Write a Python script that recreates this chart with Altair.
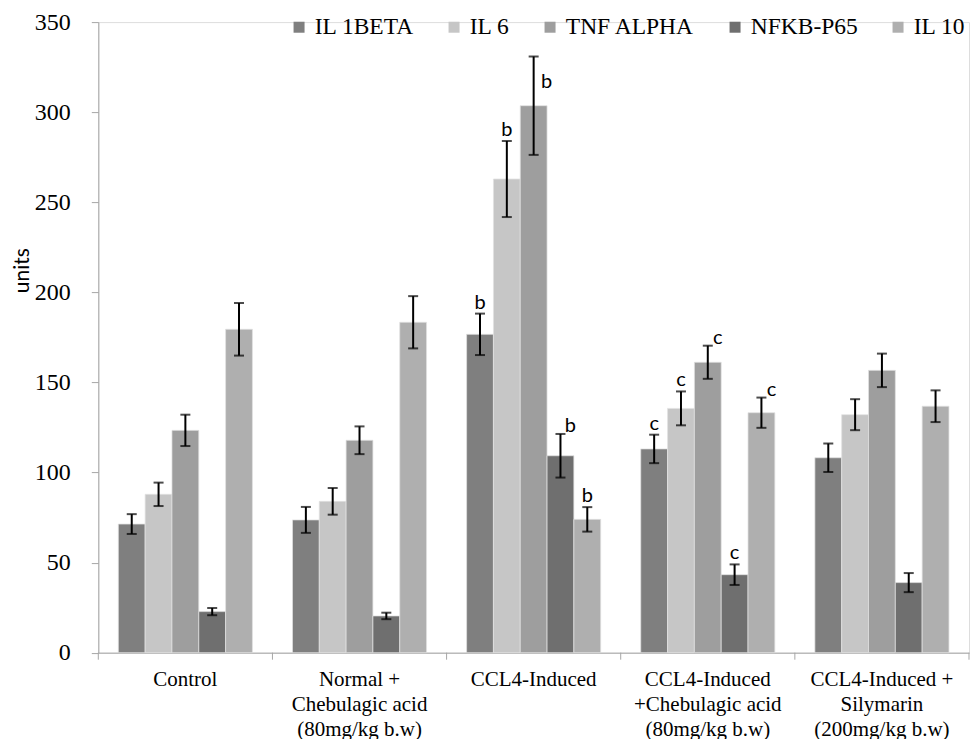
import altair as alt
import pandas as pd

groups = [
    "Control",
    "Normal +|Chebulagic acid|(80mg/kg b.w)",
    "CCL4-Induced",
    "CCL4-Induced|+Chebulagic acid|(80mg/kg b.w)",
    "CCL4-Induced +|Silymarin|(200mg/kg b.w)",
]
cytokines = ["IL 1BETA", "IL 6", "TNF ALPHA", "NFKB-P65", "IL 10"]
colors = ["#7f7f7f", "#c6c6c6", "#9e9e9e", "#6f6f6f", "#afafaf"]

il1beta = [71.4, 73.7, 176.7, 113.1, 108.2]
il6 = [87.9, 84.0, 262.9, 135.6, 132.1]
tnf_alpha = [123.4, 117.9, 303.6, 161.2, 156.7]
nfkb_p65 = [22.8, 20.4, 109.3, 43.3, 38.9]
il10 = [179.5, 183.4, 74.0, 133.2, 136.8]

il1beta_err = [5.5, 7.2, 11.5, 7.9, 7.9]
il6_err = [6.5, 7.4, 21.1, 9.4, 8.6]
tnf_alpha_err = [8.7, 7.7, 27.3, 9.2, 9.3]
nfkb_p65_err = [2.0, 1.8, 12.1, 5.7, 5.3]
il10_err = [14.6, 14.5, 6.8, 8.4, 8.8]

il1beta_sig = ["", "", "b", "c", ""]
il6_sig = ["", "", "b", "c", ""]
tnf_alpha_sig = ["", "", "b", "c", ""]
nfkb_p65_sig = ["", "", "b", "c", ""]
il10_sig = ["", "", "b", "c", ""]

# where each significance letter sits relative to its error bar
il1beta_place = ["", "", "above", "above", ""]
il6_place = ["", "", "above", "above", ""]
tnf_alpha_place = ["", "", "beside", "right", ""]
nfkb_p65_place = ["", "", "right", "above", ""]
il10_place = ["", "", "above", "right", ""]

series = {
    "IL 1BETA": (il1beta, il1beta_err, il1beta_sig, il1beta_place),
    "IL 6": (il6, il6_err, il6_sig, il6_place),
    "TNF ALPHA": (tnf_alpha, tnf_alpha_err, tnf_alpha_sig, tnf_alpha_place),
    "NFKB-P65": (nfkb_p65, nfkb_p65_err, nfkb_p65_sig, nfkb_p65_place),
    "IL 10": (il10, il10_err, il10_sig, il10_place),
}

rows = []
for cyto in cytokines:
    vals, errs, sigs, places = series[cyto]
    for g, v, e, s, p in zip(groups, vals, errs, sigs, places):
        rows.append({"group": g, "cyto": cyto, "value": v,
                     "lo": v - e, "hi": v + e, "sig": s, "place": p})
df = pd.DataFrame(rows)
gdf = pd.DataFrame({"group": groups})
last_df = pd.DataFrame({"group": groups[-1:]})

W = 870.7
H = 630.6
AXIS_GRAY = "#a6a6a6"
PAD_OUT = 0.115 * W / 5  # outer padding in px, where category boundary ticks sit

xscale = alt.Scale(paddingInner=0.23, paddingOuter=0.115)
x_main = alt.X(
    "group:N", sort=groups, scale=xscale, title=None,
    axis=alt.Axis(
        labelExpr="split(datum.label, '|')",
        labelFont="Liberation Serif", labelFontSize=21, labelColor="black",
        labelLineHeight=25, labelBaseline="top", labelPadding=16,
        labelAngle=0, labelLimit=300, labelOverlap=False,
        ticks=False, tickSize=0, domainColor=AXIS_GRAY, domainWidth=1,
    ),
)
x_plain = alt.X("group:N", sort=groups, scale=xscale)
xo = alt.XOffset("cyto:N", sort=cytokines,
                 scale=alt.Scale(paddingInner=0, paddingOuter=0))
y_main = alt.Y(
    "value:Q", scale=alt.Scale(domain=[0, 350], nice=False),
    axis=alt.Axis(
        values=[0, 50, 100, 150, 200, 250, 300, 350], grid=False,
        labelFont="Liberation Serif", labelFontSize=24, labelColor="black",
        labelPadding=21, tickSize=7, tickColor=AXIS_GRAY,
        domainColor=AXIS_GRAY, domainWidth=1,
        title="units", titleFont="Lato", titleFontSize=21,
        titleFontWeight="normal", titleColor="black", titleAngle=270,
        titleX=-70, titleY=248, titleAlign="center",
        titleBaseline="alphabetic",
    ),
)

bars = alt.Chart(df).mark_bar(stroke="#e2e2e2", strokeWidth=0.75).encode(
    x=x_main, xOffset=xo, y=y_main,
    color=alt.Color(
        "cyto:N", sort=cytokines,
        scale=alt.Scale(domain=cytokines, range=colors),
        legend=alt.Legend(
            orient="none", legendX=189, legendY=-7, direction="horizontal",
            title=None, symbolType="square", symbolSize=121,
            symbolStrokeWidth=0, labelFont="Liberation Serif",
            labelFontSize=23.5, labelColor="black", columnPadding=28,
            labelOffset=4, padding=0,
        ),
    ),
)

err_rule = alt.Chart(df).mark_rule(color="black", strokeWidth=2).encode(
    x=x_plain, xOffset=xo, y="lo:Q", y2="hi:Q")
cap_lo = alt.Chart(df).mark_tick(color="black", size=10, thickness=2,
                                 orient="horizontal").encode(
    x=x_plain, xOffset=xo, y="lo:Q")
cap_hi = alt.Chart(df).mark_tick(color="black", size=10, thickness=2,
                                 orient="horizontal").encode(
    x=x_plain, xOffset=xo, y="hi:Q")

txt_kw = dict(font="Lato", fontSize=20, color="black", baseline="alphabetic")
lab_above = alt.Chart(df).transform_filter("datum.place == 'above'").mark_text(
    align="center", dy=-5, **txt_kw).encode(
    x=x_plain, xOffset=xo, y="hi:Q", text="sig:N")
lab_right = alt.Chart(df).transform_filter("datum.place == 'right'").mark_text(
    align="center", dx=10, dy=-2, **txt_kw).encode(
    x=x_plain, xOffset=xo, y="hi:Q", text="sig:N")
lab_beside = alt.Chart(df).transform_filter("datum.place == 'beside'").mark_text(
    align="center", dx=13, dy=31, **txt_kw).encode(
    x=x_plain, xOffset=xo, y="hi:Q", text="sig:N")

ticks_left = alt.Chart(gdf).mark_rule(
    color=AXIS_GRAY, strokeWidth=1, xOffset=-PAD_OUT).encode(
    x=alt.X("group:N", sort=groups, scale=xscale, bandPosition=0),
    y=alt.value(H), y2=alt.value(H + 7))
ticks_right = alt.Chart(last_df).mark_rule(
    color=AXIS_GRAY, strokeWidth=1, xOffset=PAD_OUT).encode(
    x=alt.X("group:N", sort=groups, scale=xscale, bandPosition=1),
    y=alt.value(H), y2=alt.value(H + 7))

chart = alt.layer(
    bars, err_rule, cap_lo, cap_hi, lab_above, lab_right, lab_beside,
    ticks_left, ticks_right,
).properties(
    width=W, height=H, autosize="none",
    padding={"left": 90.3, "top": 14.1, "right": 2, "bottom": 95},
).configure_view(stroke=None).configure(background="white")

chart.save("out.html", embed_options={"renderer": "svg", "actions": False})
